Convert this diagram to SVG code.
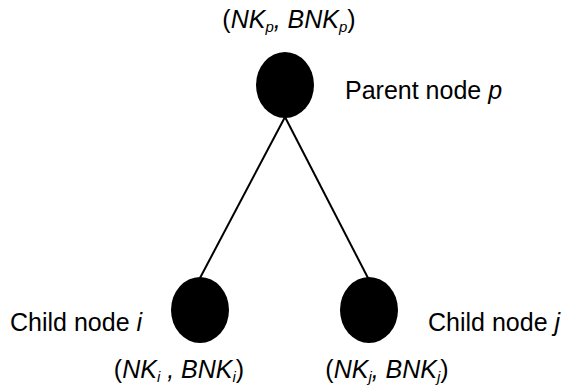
<svg xmlns="http://www.w3.org/2000/svg" width="566" height="386" viewBox="0 0 566 386">
<style>
text{font-family:"Liberation Sans",Arial,sans-serif;font-size:25px;fill:#000}
.it{font-style:italic}
.sub{font-style:italic;font-size:15px}
.node{fill:#000}
.edge{stroke:#000;stroke-width:2;fill:none}
</style>
<rect width="566" height="386" fill="#fff"/>
<g id="connectors">
<line class="edge" x1="285" y1="117" x2="200" y2="278"/>
<line class="edge" x1="285" y1="117" x2="368" y2="278"/>
</g>
<g id="parent">
<ellipse class="node" cx="285" cy="85" rx="29" ry="33"/>
<text x="289" y="28" text-anchor="middle">(<tspan class="it">NK</tspan><tspan class="sub" dy="4">p</tspan><tspan class="it" dy="-4">, BNK</tspan><tspan class="sub" dy="4">p</tspan><tspan dy="-4">)</tspan></text>
<text x="345" y="99">Parent node <tspan class="it">p</tspan></text>
</g>
<g id="child-i">
<ellipse class="node" cx="200" cy="310" rx="29" ry="33"/>
<text x="10" y="331">Child node <tspan class="it">i</tspan></text>
<text x="179" y="378" text-anchor="middle">(<tspan class="it">NK</tspan><tspan class="sub" dy="4">i</tspan><tspan class="it" dy="-4"> , BNK</tspan><tspan class="sub" dy="4">i</tspan><tspan dy="-4">)</tspan></text>
</g>
<g id="child-j">
<ellipse class="node" cx="369" cy="310" rx="29" ry="33"/>
<text x="428" y="331">Child node <tspan class="it">j</tspan></text>
<text x="387" y="378" text-anchor="middle">(<tspan class="it">NK</tspan><tspan class="sub" dy="4">j</tspan><tspan class="it" dy="-4">, BNK</tspan><tspan class="sub" dy="4">j</tspan><tspan dy="-4">)</tspan></text>
</g>
</svg>
